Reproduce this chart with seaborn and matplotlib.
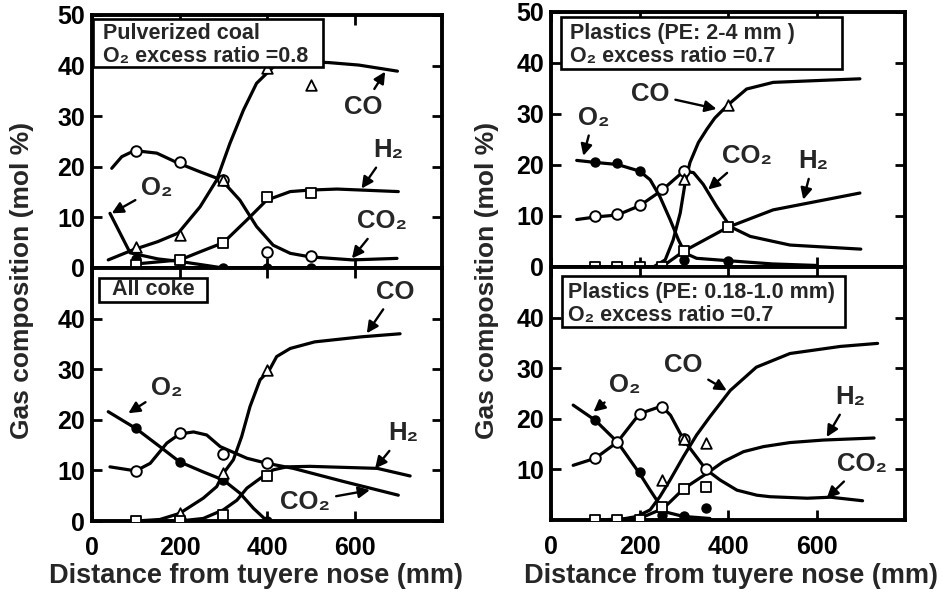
import matplotlib
matplotlib.use("Agg")
import matplotlib.pyplot as plt
from matplotlib.patches import Rectangle
import seaborn as sns

# ---------------- data ----------------
# Panel A: Pulverized coal (O2 excess ratio 0.8)
pc_pts_x = [100, 200, 300, 400, 500]
pc_o2_pts = [1.8, 1.3, 0.0, 0.0, 0.0]
pc_co2_pts = [23.1, 21.0, 17.4, 3.2, 2.4]
pc_co_pts = [4.2, 6.5, 17.4, 39.5, 36.2]
pc_h2_pts = [0.5, 1.6, 4.9, 14.1, 14.9]
pc_co_cx = [37, 94, 150, 197, 247, 285, 315, 346, 376, 415, 468, 540, 610, 698]
pc_co_cy = [1.6, 3.6, 5.2, 6.9, 12.1, 17.4, 24.6, 31.2, 36.5, 39.8, 40.8, 40.6, 40.1, 38.9]
pc_h2_cx = [100, 201, 247, 300, 354, 399, 453, 498, 560, 700]
pc_h2_cy = [0.8, 1.6, 3.2, 5.0, 9.5, 13.4, 15.1, 15.4, 15.6, 15.1]
pc_co2_cx = [45, 68, 97, 148, 195, 247, 296, 338, 376, 414, 453, 498, 595, 697]
pc_co2_cy = [19.7, 22.0, 23.2, 22.7, 20.8, 19.0, 17.4, 13.4, 8.2, 4.5, 2.9, 2.2, 1.6, 1.9]
pc_o2_cx = [41, 87, 150, 200, 300, 400, 500]
pc_o2_cy = [10.8, 3.0, 1.8, 1.3, 0.0, 0.0, 0.0]

# Panel B: All coke
ac_pts_x = [100, 200, 300, 400]
ac_o2_pts = [18.3, 11.7, 8.1, 0.0]
ac_co2_pts = [9.9, 17.3, 13.2, 11.4]
ac_co_pts_x = [200, 300, 400]
ac_co_pts = [1.5, 9.4, 29.8]
ac_h2_pts = [0.0, 0.0, 1.2, 8.8]
ac_o2_cx = [37, 100, 155, 200, 254, 300, 338, 369, 400]
ac_o2_cy = [21.6, 18.3, 14.7, 11.7, 9.7, 8.1, 5.5, 2.5, 0.0]
ac_co2_cx = [41, 100, 133, 171, 200, 232, 262, 293, 354, 400, 460, 575, 700]
ac_co2_cy = [10.7, 9.9, 11.4, 15.4, 17.2, 17.6, 17.0, 14.7, 12.4, 11.4, 10.4, 7.8, 5.1]
ac_h2_cx = [100, 200, 254, 300, 331, 354, 384, 414, 445, 498, 652, 727]
ac_h2_cy = [0.0, 0.0, 0.5, 2.2, 4.1, 6.5, 8.4, 10.1, 10.7, 10.8, 10.4, 8.9]
ac_co_cx = [100, 155, 200, 254, 285, 300, 323, 342, 361, 384, 405, 422, 453, 509, 616, 704]
ac_co_cy = [0.0, 0.3, 1.5, 4.5, 6.8, 9.4, 12.1, 16.7, 22.6, 27.9, 29.8, 32.5, 34.1, 35.4, 36.4, 37.0]

# Panel C: Plastics (PE 2-4 mm)
p1_o2_px = [100, 150, 200, 300, 400]
p1_o2_pts = [20.6, 20.3, 18.8, 1.4, 1.1]
p1_co2_px = [100, 150, 200, 250, 300]
p1_co2_pts = [9.9, 10.3, 12.1, 15.2, 18.8]
p1_co_px = [300, 400]
p1_co_pts = [17.2, 31.8]
p1_h2_px = [100, 150, 200, 250, 300, 400]
p1_h2_pts = [0.0, 0.0, 0.0, 0.0, 3.2, 7.8]
p1_o2_cx = [58, 100, 150, 200, 224, 246, 269, 288, 303, 329, 405, 500, 600]
p1_o2_cy = [20.9, 20.5, 20.1, 18.8, 17.1, 13.8, 9.3, 5.3, 2.7, 1.7, 1.2, 0.6, 0.3]
p1_co2_cx = [58, 100, 150, 200, 250, 300, 322, 344, 374, 405, 450, 540, 700]
p1_co2_cy = [9.3, 9.8, 10.2, 12.0, 15.0, 18.8, 18.5, 16.2, 11.9, 7.9, 6.0, 4.3, 3.5]
p1_co_cx = [231, 258, 276, 292, 303, 314, 333, 352, 370, 400, 442, 502, 698]
p1_co_cy = [0.0, 1.4, 5.3, 10.6, 16.5, 20.5, 24.4, 27.0, 29.2, 31.8, 34.9, 36.2, 36.9]
p1_h2_cx = [100, 250, 300, 400, 502, 698]
p1_h2_cy = [0.0, 0.0, 3.1, 7.8, 11.2, 14.5]

# Panel D: Plastics (PE 0.18-1.0 mm)
p2_pts_x = [100, 150, 200, 250, 300, 350]
p2_o2_pts = [19.7, 15.4, 9.5, 1.0, 0.7, 2.3]
p2_co2_pts = [12.2, 15.4, 20.9, 22.3, 16.1, 10.0]
p2_co_px = [250, 300, 350]
p2_co_pts = [7.9, 16.0, 15.2]
p2_h2_pts = [0.0, 0.0, 0.0, 2.6, 6.2, 6.6]
p2_o2_cx = [50, 100, 150, 200, 224, 239, 258, 299, 359]
p2_o2_cy = [22.7, 19.7, 15.4, 9.2, 5.9, 3.9, 1.6, 0.7, 0.3]
p2_co2_cx = [50, 100, 150, 200, 250, 270, 300, 350, 382, 420, 465, 495, 579, 632, 704]
p2_co2_cy = [10.8, 12.2, 15.4, 21.0, 22.5, 20.7, 15.8, 10.0, 7.9, 5.9, 4.9, 4.6, 4.3, 4.5, 3.8]
p2_co_cx = [150, 194, 224, 246, 269, 299, 329, 359, 405, 464, 540, 654, 738]
p2_co_cy = [0.0, 0.7, 2.0, 4.6, 7.9, 12.5, 16.8, 20.4, 25.6, 30.2, 32.9, 34.3, 34.9]
p2_h2_cx = [100, 200, 254, 300, 352, 389, 435, 480, 540, 616, 730]
p2_h2_cy = [0.0, 0.3, 2.3, 6.2, 9.2, 11.5, 13.5, 14.5, 15.3, 15.8, 16.2]

x_ticks = [0, 200, 400, 600]
y_ticks_top = [0, 10, 20, 30, 40, 50]
y_ticks_bl = [0, 10, 20, 30, 40]
y_ticks_br = [10, 20, 30, 40]
xlabel = "Distance from tuyere nose (mm)"
ylabel = "Gas composition (mol %)"

# ---------------- style ----------------
sns.set_theme(style="ticks")
plt.rcParams['font.family'] = ['Liberation Sans', 'DejaVu Sans']
plt.rcParams['font.weight'] = 'bold'
plt.rcParams['axes.linewidth'] = 2.8

fig = plt.figure(figsize=(9.46, 5.97), dpi=100)
ax_tl = fig.add_axes([0.0973, 0.5511, 0.3700, 0.4238])
ax_bl = fig.add_axes([0.0973, 0.1273, 0.3700, 0.4238])
ax_tr = fig.add_axes([0.5825, 0.5528, 0.3742, 0.4271])
ax_br = fig.add_axes([0.5825, 0.1290, 0.3742, 0.4238])

LW = 2.3


def curve(ax, x, y):
    sns.lineplot(x=x, y=y, ax=ax, color='black', lw=LW, sort=False,
                 estimator=None, zorder=2)


def pts(ax, x, y, kind):
    if kind == 'o2':
        sns.scatterplot(x=x, y=y, ax=ax, marker='o', s=42, color='black',
                        edgecolor='black', linewidth=1.0, zorder=4)
    elif kind == 'co2':
        sns.scatterplot(x=x, y=y, ax=ax, marker='o', s=58, color='white',
                        edgecolor='black', linewidth=1.4, zorder=4)
    elif kind == 'co':
        sns.scatterplot(x=x, y=y, ax=ax, marker='^', s=58, color='white',
                        edgecolor='black', linewidth=1.3, zorder=4)
    else:
        sns.scatterplot(x=x, y=y, ax=ax, marker='s', s=55, color='white',
                        edgecolor='black', linewidth=1.3, zorder=4)


def label(ax, text, xy, xytext):
    ax.annotate(text, xy=xy, xytext=xytext, ha='center', va='center',
                fontsize=18.5, fontweight='bold', zorder=6,
                arrowprops=dict(arrowstyle='-|>', color='black', lw=1.7,
                                mutation_scale=17, shrinkA=2, shrinkB=0))


def box(ax, x0, x1, y0, y1, lines, tx, tys, center=False):
    ax.add_patch(Rectangle((x0, y0), x1 - x0, y1 - y0, facecolor='white',
                           edgecolor='black', lw=1.9, zorder=7))
    for line, ty in zip(lines, tys):
        ax.text(tx, ty, line, ha='center' if center else 'left', va='center',
                fontsize=15.5, fontweight='bold', zorder=8)


# Panel A
curve(ax_tl, pc_co_cx, pc_co_cy)
curve(ax_tl, pc_h2_cx, pc_h2_cy)
curve(ax_tl, pc_co2_cx, pc_co2_cy)
curve(ax_tl, pc_o2_cx, pc_o2_cy)
pts(ax_tl, pc_pts_x, pc_o2_pts, 'o2')
pts(ax_tl, pc_pts_x, pc_co2_pts, 'co2')
pts(ax_tl, pc_pts_x, pc_co_pts, 'co')
pts(ax_tl, pc_pts_x, pc_h2_pts, 'h2')
label(ax_tl, "CO", (670, 38.8), (620, 31.9))
label(ax_tl, "H₂", (616, 15.7), (677, 23.3))
label(ax_tl, "CO₂", (594, 1.9), (662, 9.2))
label(ax_tl, "O₂", (45, 10.8), (148, 15.8))
box(ax_tl, 3, 529, 39.8, 49.3, ["Pulverized coal", "O₂ excess ratio =0.8"], 24, [46.4, 41.8])

# Panel B
curve(ax_bl, ac_co_cx, ac_co_cy)
curve(ax_bl, ac_h2_cx, ac_h2_cy)
curve(ax_bl, ac_co2_cx, ac_co2_cy)
curve(ax_bl, ac_o2_cx, ac_o2_cy)
pts(ax_bl, ac_pts_x, ac_o2_pts, 'o2')
pts(ax_bl, ac_pts_x, ac_co2_pts, 'co2')
pts(ax_bl, ac_co_pts_x, ac_co_pts, 'co')
pts(ax_bl, ac_pts_x, ac_h2_pts, 'h2')
label(ax_bl, "CO", (628, 37.1), (693, 45.3))
label(ax_bl, "O₂", (83, 21.3), (171, 26.2))
label(ax_bl, "H₂", (647, 10.4), (712, 17.3))
label(ax_bl, "CO₂", (635, 6.1), (487, 3.8))
box(ax_bl, 17, 262, 43.3, 48.0, ["All coke"], 139.5, [45.7], center=True)

# Panel C
curve(ax_tr, p1_co_cx, p1_co_cy)
curve(ax_tr, p1_h2_cx, p1_h2_cy)
curve(ax_tr, p1_co2_cx, p1_co2_cy)
curve(ax_tr, p1_o2_cx, p1_o2_cy)
pts(ax_tr, p1_o2_px, p1_o2_pts, 'o2')
pts(ax_tr, p1_co2_px, p1_co2_pts, 'co2')
pts(ax_tr, p1_co_px, p1_co_pts, 'co')
pts(ax_tr, p1_h2_px, p1_h2_pts, 'h2')
label(ax_tr, "CO", (374, 31.0), (224, 33.9))
label(ax_tr, "O₂", (73, 21.8), (96, 29.3))
label(ax_tr, "CO₂", (355, 15.2), (442, 21.8))
label(ax_tr, "H₂", (570, 13.2), (593, 20.8))
box(ax_tr, 23, 657, 38.9, 49.1, ["Plastics (PE: 2-4 mm )", "O₂ excess ratio =0.7"], 43, [45.8, 41.2])

# Panel D
curve(ax_br, p2_co_cx, p2_co_cy)
curve(ax_br, p2_h2_cx, p2_h2_cy)
curve(ax_br, p2_co2_cx, p2_co2_cy)
curve(ax_br, p2_o2_cx, p2_o2_cy)
pts(ax_br, p2_pts_x, p2_o2_pts, 'o2')
pts(ax_br, p2_pts_x, p2_co2_pts, 'co2')
pts(ax_br, p2_co_px, p2_co_pts, 'co')
pts(ax_br, p2_pts_x, p2_h2_pts, 'h2')
label(ax_br, "O₂", (96, 21.4), (167, 26.6))
label(ax_br, "CO", (397, 25.6), (299, 30.6))
label(ax_br, "H₂", (623, 16.4), (676, 24.3))
label(ax_br, "CO₂", (623, 4.3), (702, 11.0))
box(ax_br, 24, 664, 38.1, 48.3, ["Plastics (PE: 0.18-1.0 mm)", "O₂ excess ratio =0.7"], 39, [45.0, 40.4])

for ax in (ax_tl, ax_bl, ax_tr, ax_br):
    ax.set_xlim(0, 800)
    ax.set_ylim(0, 50)
    ax.set_xlabel("")
    ax.set_ylabel("")
    ax.set_xticks(x_ticks)
    for s in ax.spines.values():
        s.set_visible(True)
        s.set_linewidth(2.8)
        s.set_color('black')
    ax.tick_params(direction='in', top=True, right=True, length=7, width=2,
                   labelsize=18, pad=5, colors='black')
    ax.tick_params(axis='x', pad=11)

for ax in (ax_tl, ax_tr):
    ax.set_yticks(y_ticks_top)
    ax.set_xticklabels([])
ax_bl.set_yticks(y_ticks_bl)
ax_br.set_yticks(y_ticks_br)
for ax in (ax_bl, ax_br):
    ax.set_xticklabels([str(v) for v in x_ticks], fontweight='bold')
for ax in (ax_tl, ax_tr, ax_bl, ax_br):
    ax.set_yticklabels([str(int(v)) for v in ax.get_yticks()], fontweight='bold')

fig.text(0.023, 0.531, ylabel, rotation=90, ha='center', va='center',
         fontsize=19, fontweight='bold')
fig.text(0.515, 0.531, ylabel, rotation=90, ha='center', va='center',
         fontsize=19, fontweight='bold')
fig.text(0.2706, 0.035, xlabel, ha='center', va='center', fontsize=19.5, fontweight='bold')
fig.text(0.7727, 0.035, xlabel, ha='center', va='center', fontsize=19.5, fontweight='bold')

fig.savefig("out.png", dpi=100, facecolor='white')
